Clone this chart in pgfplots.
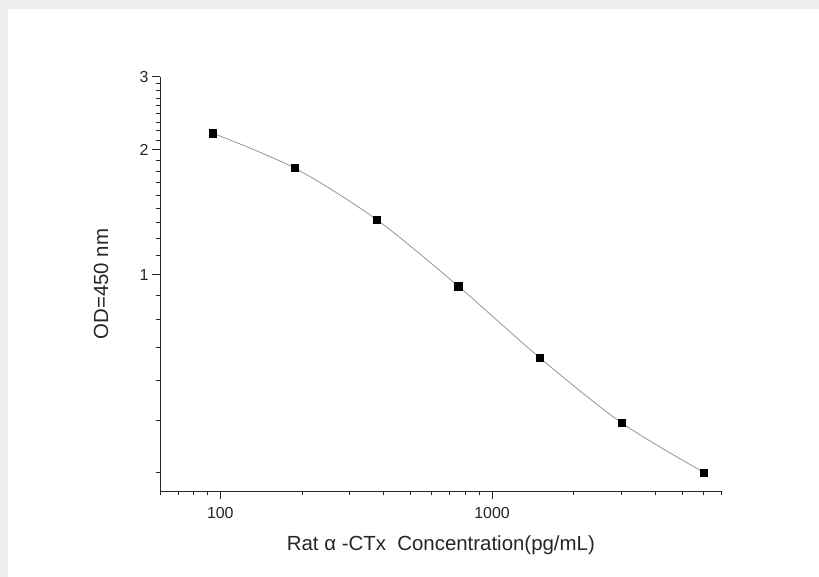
\documentclass[border=0pt]{standalone}
\usepackage{pgfplots}
\pgfplotsset{compat=1.18}
\usepackage{fontspec}
\setmainfont{Liberation Sans}
\definecolor{bggray}{RGB}{238,238,238}
\definecolor{curvegray}{RGB}{150,150,150}
\begin{document}
\begin{tikzpicture}
\useasboundingbox (0,0) rectangle (819bp,577bp);
\fill[bggray] (0,0) rectangle (819bp,577bp);
\fill[white] (7.5bp,0) rectangle (819bp,568bp);
\begin{axis}[
  at={(160bp,86bp)}, anchor=south west,
  scale only axis, width=561.7bp, height=414bp,
  xmode=log, ymode=log,
  xmin=60, xmax=7000, ymin=0.3, ymax=3,
  axis x line*=bottom, axis y line*=left,
  axis line style={-, line width=1bp, black!85},
  tick align=outside,
  tick style={line width=1bp, black!85},
  major tick length=8bp, minor tick length=4.5bp,
  xtick={100,1000}, xticklabels={100,1000},
  minor xtick={60,70,80,90,200,300,400,500,600,700,800,900,2000,3000,4000,5000,6000,7000},
  ytick={1,2,3}, yticklabels={1,2,3},
  minor ytick={0.33333,0.44444,0.55556,0.66667,0.77778,0.88889,1.11111,1.22222,1.33333,1.44444,1.55556,1.66667,1.77778,1.88889,2.11111,2.22222,2.33333,2.44444,2.55556,2.66667,2.77778,2.88889},
  /pgf/number format/assume math mode=true,
  ticklabel style={font=\fontsize{16}{19}\selectfont, text=black!85},
  xticklabel style={yshift=-5bp},
  xlabel={Rat α -CTx\ \ Concentration(pg/mL)},
  ylabel={OD=450 nm},
  label style={font=\fontsize{20.5}{24}\selectfont, text=black!85},
  xlabel style={at={(axis description cs:0.5,0)}, anchor=center, yshift=-54bp},
  ylabel style={at={(axis description cs:0,0.5)}, anchor=center, yshift=59bp},
  clip=false,
]
\addplot[curvegray, line width=0.8bp, smooth, mark=square*, mark size=3.6bp,
  mark options={fill=black, draw=black, line width=0.2bp}] coordinates {
  (93.75,2.196)
  (187.5,1.809)
  (375,1.359)
  (750,0.938)
  (1500,0.629)
  (3000,0.438)
  (6000,0.333)
};
\end{axis}
\end{tikzpicture}
\end{document}
